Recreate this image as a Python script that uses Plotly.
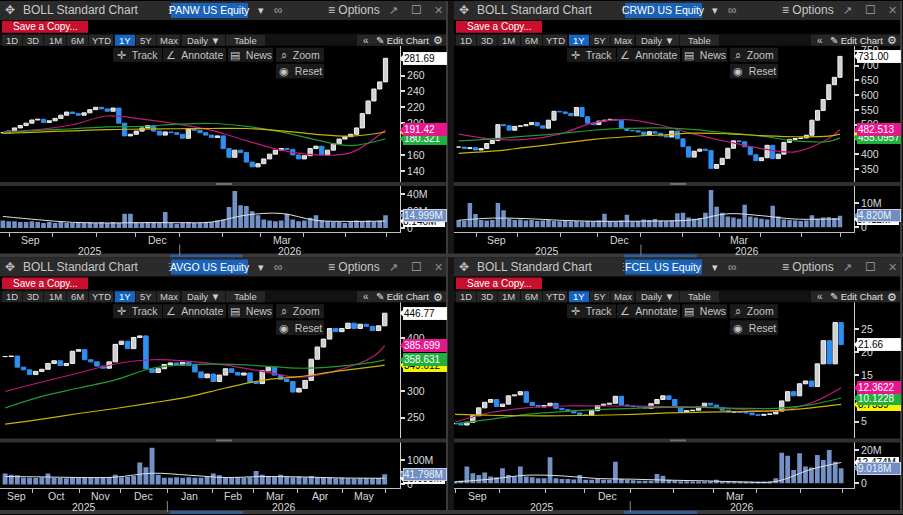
import numpy as np
import pandas as pd
import plotly.graph_objects as go

W, H = 903, 515
FONT = "Liberation Sans, Arial, sans-serif"
LAST_DAY = "2026-05-29"

# ---------------- PANW ----------------
panw_close = [188, 190, 194, 197, 200, 204, 205, 201, 203, 206,
              210, 214, 212, 210, 213, 217, 220, 218, 215, 219,
              200, 184, 186, 190, 194, 197, 190, 185, 189, 188,
              186, 181, 193, 191, 188, 185, 182, 184, 168, 157,
              166, 163, 151, 145, 149, 155, 161, 166, 168, 167,
              160, 155, 159, 168, 171, 160, 166, 174, 180, 183,
              186, 194, 212, 228, 243, 252, 281.69]
panw_vol = [9, 8, 8, 7, 7, 8, 7, 6, 7, 6,
            7, 6, 6, 7, 6, 7, 6, 7, 6, 7,
            6, 17, 17, 7, 6, 7, 7, 6, 19, 6,
            5, 6, 7, 6, 6, 7, 7, 9, 10, 25,
            44, 27, 26, 20, 15, 10, 9, 8, 9, 17,
            10, 8, 9, 12, 15, 9, 8, 7, 7, 6,
            8, 9, 8, 9, 8, 9, 15]
panw_ma_mag = [189, 192, 198, 209, 205, 199, 191, 178, 166, 160, 163, 191.42]
panw_ma_grn = [188, 191, 193, 195.4, 196, 198.7, 199.6, 196, 189, 179, 171.7, 180.321]
panw_ma_yel = [187, 188.8, 190.4, 192, 192.5, 193, 193.3, 193.3, 190.4, 186, 183.7, 188.9]
panw_vol_ma = [13.7, 9.8, 6.7, 5.9, 6.3, 6.3, 7, 15.3, 17.3, 9, 7.8, 8.14]
panw_tags = ["281.69", "191.42", "180.321", "188.905"]
panw_vtags = ["14.999M", "8.140M"]
panw_yticks = [140, 160, 180, 200, 220, 240, 260, 280]

# ---------------- CRWD ----------------
crwd_close = [424, 419, 422, 414, 419, 436, 446, 500, 496, 481,
              494, 496, 500, 507, 496, 488, 515, 545, 543, 538,
              530, 558, 527, 505, 500, 512, 515, 518, 515, 487,
              480, 479, 475, 465, 476, 471, 462, 458, 478, 452,
              425, 390, 410, 417, 412, 352, 365, 386, 420, 445,
              442, 425, 398, 378, 388, 430, 385, 400, 440, 450,
              453, 455, 464, 515, 548, 585, 635, 660, 731.00]
crwd_vol = [3.0, 2.8, 10, 5.5, 3, 2.8, 3, 10, 7, 3.5,
            3, 3.2, 2.8, 3, 2.6, 2.8, 3, 2.6, 2.5, 2.8,
            2.5, 2.6, 2.4, 2.6, 2.5, 2.8, 5.6, 2.6, 2.4, 2.8,
            5.2, 2.4, 2.6, 3.2, 3.0, 3.4, 2.8, 2.6, 2.8, 5.8,
            6, 4, 3.5, 3.8, 6, 15.4, 8.5, 6, 4.5, 4,
            3.5, 9.3, 4.5, 4, 3.5, 3.2, 8.9, 4.5, 3.2, 3,
            2.8, 2.6, 2.8, 5, 3.5, 4, 4.2, 3.8, 4.82]
crwd_ma_mag = [468, 451, 450, 468, 506, 517, 498, 468, 442, 419, 408, 453, 482.513]
crwd_ma_grn = [445, 452, 461, 470, 481, 487, 489, 483, 472, 461, 445, 443, 455.0957]
crwd_ma_yel = [403, 410, 423, 436, 450, 459, 465, 471, 469, 463, 459, 461, 468]
crwd_vol_ma = [2.9, 3.8, 3.6, 2.9, 2.5, 2.5, 2.6, 3.1, 5.6, 4.8, 3.4, 3.4, 3.41]
crwd_tags = ["731.00", "482.513", "455.0957", "468.024"]
crwd_vtags = ["4.820M", "3.412M"]
crwd_yticks = [350, 400, 450, 500, 550, 600, 650, 700, 750]

# ---------------- AVGO ----------------
avgo_close = [365, 366, 345, 340, 331, 337, 341, 352, 357, 348,
              352, 375, 378, 359, 355, 347, 343, 355, 388, 394,
              380, 401, 404, 342, 335, 342, 350, 353, 349, 354,
              348, 336, 325, 332, 318, 330, 342, 335, 330, 334,
              316, 314, 338, 345, 330, 322, 318, 298, 305, 320,
              360, 383, 398, 418, 412, 418, 428, 418, 426, 422,
              414, 423, 446.77]
avgo_vol = [45, 40, 38, 28, 27, 26, 30, 45, 28, 26,
            25, 27, 26, 28, 27, 26, 28, 30, 40, 30,
            32, 35, 90, 70, 150, 40, 28, 27, 30, 28,
            30, 28, 27, 32, 45, 38, 30, 28, 30, 28,
            30, 55, 40, 35, 32, 40, 32, 30, 33, 30,
            35, 28, 27, 30, 25, 27, 25, 24, 25, 26,
            25, 26, 41.8]
avgo_ma_mag = [299, 317, 334, 351, 359, 356, 349, 337, 326, 338, 364, 385.699]
avgo_ma_grn = [268, 290, 305.6, 321, 343, 350, 350.6, 347.5, 343, 346, 354, 358.631]
avgo_ma_yel = [237.5, 247, 257.5, 267, 277.5, 289, 305.6, 320, 327, 337, 345.6, 349]
avgo_vol_ma = [32.5, 31, 28.5, 30, 46, 38, 28.5, 32.5, 31, 27, 25.7, 25.69]
avgo_tags = ["446.77", "385.699", "358.631", "349.012"]
avgo_vtags = ["41.798M", "25.690M"]
avgo_yticks = [250, 300, 350, 400, 450]

# ---------------- FCEL ----------------
fcel_close = [4.6, 4.3, 4.9, 6.3, 8.0, 9.2, 9.8, 8.3, 8.8, 10.6,
              10.8, 11.5, 9.2, 8.5, 8.2, 8.5, 9.0, 7.9, 7.6, 7.3,
              6.9, 6.4, 6.4, 7.4, 8.5, 8.8, 9.0, 10.5, 8.6, 8.4,
              8.3, 8.2, 7.9, 8.9, 9.8, 10.6, 9.8, 8.3, 7.1, 7.4,
              7.5, 8.2, 9.0, 8.6, 8.1, 7.5, 7.1, 7.1, 7.0, 6.9,
              6.5, 6.4, 6.6, 6.7, 7.3, 9.5, 11.5, 10.6, 13.2, 13.8,
              12.6, 17.5, 22.5, 17.5, 26.4, 21.66]
fcel_vol = [1.0, 1.5, 10, 6, 5, 6.4, 4, 3.5, 9, 5,
            4, 10, 4, 3.5, 3, 3, 15.6, 3, 2.5, 2.5,
            2.2, 5, 2, 2, 2.5, 2, 2, 13, 2.5, 2,
            1.8, 1.5, 1.5, 1.5, 5.6, 4.5, 2, 1.5, 1.2, 1.2,
            1, 1, 1, 1.2, 2, 1, 1, 1, 0.8, 0.9,
            0.8, 0.8, 0.9, 1, 3, 18.4, 16.5, 8, 18, 10,
            9.5, 17, 14, 20, 13, 9.02]
fcel_ma_mag = [4.9, 7.0, 8.0, 8.4, 8.4, 8.4, 8.3, 8.2, 7.7, 7.3, 9.1, 12.3622]
fcel_ma_grn = [4.6, 5.5, 6.6, 7.2, 7.6, 7.9, 8.1, 8.1, 7.9, 7.9, 8.7, 10.1228]
fcel_ma_yel = [6.6, 6.4, 6.3, 6.3, 6.4, 6.6, 6.9, 7.1, 7.2, 7.4, 8.0, 8.7339]
fcel_vol_ma = [0.8, 2.4, 4.8, 4.4, 2.8, 2.4, 1.8, 1.4, 0.8, 1.0, 8.4, 12.47]
fcel_tags = ["21.66", "12.3622", "10.1228", "8.7339"]
fcel_vtags = ["9.018M", "12.474M"]
fcel_yticks = [5, 10, 15, 20, 25]

month_starts = ["2025-08-01", "2025-09-01", "2025-10-01", "2025-11-01", "2025-12-01",
                "2026-01-01", "2026-02-01", "2026-03-01", "2026-04-01", "2026-05-01",
                "2026-06-01"]
q_months = [("Sep", "2025-09"), ("Dec", "2025-12"), ("Mar", "2026-03")]
all_months = [("Sep", "2025-09"), ("Oct", "2025-10"), ("Nov", "2025-11"), ("Dec", "2025-12"),
              ("Jan", "2026-01"), ("Feb", "2026-02"), ("Mar", "2026-03"), ("Apr", "2026-04"),
              ("May", "2026-05")]
years = [2025, 2026]

MA_COLORS = ["#c0187c", "#1f9a30", "#c8b400"]
TAG_COLORS = [("white", "black"), ("#e8168c", "white"), ("#20b03c", "white"), ("#f4f400", "black")]

panels = [
    dict(ticker="PANW US Equity", ox=0, oy=0, close=panw_close, vol=panw_vol,
         ma=[panw_ma_mag, panw_ma_grn, panw_ma_yel], vol_ma=panw_vol_ma,
         xr=["2025-08-25", "2026-06-09"], yr=[126, 297.5], vr=[-4.4, 50],
         yticks=panw_yticks, vticks=[0, 20, 40], vtext=["0", "20M", "40M"],
         tags=panw_tags, vtags=panw_vtags, months=q_months),
    dict(ticker="CRWD US Equity", ox=454, oy=0, close=crwd_close, vol=crwd_vol,
         ma=[crwd_ma_mag, crwd_ma_grn, crwd_ma_yel], vol_ma=crwd_vol_ma,
         xr=["2025-08-14", "2026-06-09"], yr=[306, 767], vr=[-1.8, 17.1],
         yticks=crwd_yticks, vticks=[0, 5, 10], vtext=["0", "5M", "10M"],
         tags=crwd_tags, vtags=crwd_vtags, months=q_months),
    dict(ticker="AVGO US Equity", ox=0, oy=258, close=avgo_close, vol=avgo_vol,
         ma=[avgo_ma_mag, avgo_ma_grn, avgo_ma_yel], vol_ma=avgo_vol_ma,
         xr=["2025-09-09", "2026-06-09"], yr=[210.5, 467.5], vr=[-15, 172],
         yticks=avgo_yticks, vticks=[0, 50, 100], vtext=["0", "50M", "100M"],
         tags=avgo_tags, vtags=avgo_vtags, months=all_months),
    dict(ticker="FCEL US Equity", ox=454, oy=258, close=fcel_close, vol=fcel_vol,
         ma=[fcel_ma_mag, fcel_ma_grn, fcel_ma_yel], vol_ma=fcel_vol_ma,
         xr=["2025-08-29", "2026-06-08"], yr=[1.4, 30.8], vr=[-3, 24.6],
         yticks=fcel_yticks, vticks=[0, 10, 20], vtext=["0", "10M", "20M"],
         tags=fcel_tags, vtags=fcel_vtags, months=q_months),
]

BUTTONS = [("1D", 2, 22), ("3D", 23, 43), ("1M", 44, 66), ("6M", 67, 88), ("YTD", 89, 113),
           ("1Y", 115, 135), ("5Y", 136, 156), ("Max", 157, 180), ("Daily ▼", 182, 225),
           ("Table", 226, 265)]
FLOAT = [("✛  Track", 113, 162), ("∠  Annotate", 163, 226), ("▤  News", 228, 273),
         ("⌕  Zoom", 276, 324)]


def px(x):
    return x / W


def py(y):
    return 1 - y / H


shapes = []
annots = []


def rect(x0, y0, x1, y1, color):
    shapes.append(dict(type="rect", xref="paper", yref="paper", x0=px(x0), x1=px(x1),
                       y0=py(y1), y1=py(y0), fillcolor=color, line_width=0, layer="above"))


def text(x, y, s, size=11, color="#c8c8c8", anchor="left"):
    annots.append(dict(xref="paper", yref="paper", x=px(x), y=py(y), text=s, showarrow=False,
                       xanchor=anchor, yanchor="middle",
                       font=dict(size=size, color=color, family=FONT)))


def pointer(x, yfrac, color):
    # small left-pointing notch in front of an axis tag
    h = 4.5 / H
    shapes.append(dict(type="path", xref="paper", yref="paper", layer="above",
                       path=f"M {px(x)},{yfrac} L {px(x + 4)},{yfrac + h} L {px(x + 4)},{yfrac - h} Z",
                       fillcolor=color, line_width=0))


def chrome(ox, oy, ticker):
    rect(ox, oy, ox + 447, oy + 19, "#2b2b2b")
    text(ox + 3, oy + 9.5, "✥", 12, "#bdbdbd")
    text(ox + 21, oy + 9.5, "BOLL Standard Chart", 12)
    text(ox + 162, oy + 9.5, "⋮", 11, "#a0a0a0")
    rect(ox + 171, oy + 2, ox + 248, oy + 17, "#1b63b8")
    text(ox + 209.5, oy + 9.5, ticker, 10.5, "white", "center")
    text(ox + 256, oy + 9.5, "▾", 11, "#cfcfcf")
    text(ox + 272, oy + 9.5, "∞", 12, "#a0a0a0")
    text(ox + 326, oy + 9.5, "≡ Options", 12)
    text(ox + 387, oy + 9.5, "↗", 11, "#a0a0a0")
    text(ox + 409, oy + 9.5, "☐", 12, "#a0a0a0")
    text(ox + 432, oy + 9.5, "✕", 11, "#8a8a8a")
    rect(ox + 2, oy + 20, ox + 88, oy + 32, "#c8102e")
    text(ox + 45, oy + 26, "Save a Copy...", 10, "white", "center")
    rect(ox, oy + 33, ox + 447, oy + 45, "#121212")
    for lab, a, b in BUTTONS:
        rect(ox + a, oy + 34, ox + b, oy + 45, "#1565c0" if lab == "1Y" else "#262626")
        text(ox + (a + b) / 2, oy + 39.5, lab, 9.5, "white" if lab == "1Y" else "#d0d0d0", "center")
    rect(ox + 357, oy + 34, ox + 447, oy + 45, "#262626")
    text(ox + 361, oy + 39.5, "«", 10, "#d0d0d0")
    text(ox + 374, oy + 39.5, "✎ Edit Chart", 9.5, "#e0e0e0")
    text(ox + 438, oy + 39.5, "⚙", 11, "#e0e0e0", "center")
    for lab, a, b in FLOAT:
        rect(ox + a, oy + 47, ox + b, oy + 61, "#1b1b1b")
        text(ox + (a + b) / 2, oy + 54, lab, 10.5, "#c4c4c4", "center")
    rect(ox + 276, oy + 63, ox + 324, oy + 78, "#1b1b1b")
    text(ox + 300, oy + 70.5, "◉  Reset", 10.5, "#c4c4c4", "center")
    rect(ox, oy + 182, ox + 446, oy + 186, "#303030")
    rect(ox + 216, oy + 183, ox + 232, oy + 185, "#707070")
    rect(ox + 446, oy, ox + 448, oy + 258, "#3c3c3c")
    rect(ox + 448, oy, ox + 454, oy + 258, "#161616")
    rect(ox, oy + 254, ox + 454, oy + 258, "#3a3a3a")
    rect(ox + 170, oy + 255, ox + 243, oy + 258, "#2d5d9a")


def ax(i, kind):
    return kind if i == 1 else f"{kind}{i}"


def lk(i, kind):
    return kind + "axis" + ("" if i == 1 else str(i))


def frac(v, dom, rng):
    return dom[0] + (v - rng[0]) / (rng[1] - rng[0]) * (dom[1] - dom[0])


fig = go.Figure()
layout = dict(width=W, height=H, margin=dict(l=0, r=0, t=0, b=0), paper_bgcolor="black",
              plot_bgcolor="black", showlegend=False, barmode="overlay",
              font=dict(family=FONT, color="#d8d8d8", size=10))

for k, p in enumerate(panels):
    ox, oy = p["ox"], p["oy"]
    ip, iv = 2 * k + 1, 2 * k + 2
    xp, yp, xv, yv = ax(ip, "x"), ax(ip, "y"), ax(iv, "x"), ax(iv, "y")
    # trading-day calendar of the visible window; x is the trading-day number
    days = pd.bdate_range(p["xr"][0], p["xr"][1])
    n = len(p["close"])
    dates = pd.bdate_range(end=LAST_DAY, periods=3 * n)[2::3]
    xi = days.get_indexer(dates)
    close = np.array(p["close"], dtype=float)
    opn = np.r_[close[0], close[:-1]]
    up = close >= opn
    fig.add_trace(go.Bar(
        x=xi, y=np.abs(close - opn), base=np.minimum(opn, close), width=2.2,
        marker=dict(color=np.where(up, "#cfcfcf", "#2f8ef0").tolist(),
                    line=dict(color=np.where(up, "#f2f2f2", "#2f8ef0").tolist(), width=1)),
        xaxis=xp, yaxis=yp, hoverinfo="skip"))
    idx = sorted(set(range(0, n, 6)) | {n - 1})
    for vals, col in zip(p["ma"], MA_COLORS):
        fig.add_trace(go.Scatter(x=xi[idx], y=vals, mode="lines",
                                 line=dict(color=col, width=1.2, shape="spline"),
                                 xaxis=xp, yaxis=yp, hoverinfo="skip"))
    fig.add_trace(go.Bar(x=xi, y=p["vol"], width=2.4,
                         marker=dict(color="#7391c4", line_width=0),
                         xaxis=xv, yaxis=yv, hoverinfo="skip"))
    fig.add_trace(go.Scatter(x=xi[idx], y=p["vol_ma"], mode="lines",
                             line=dict(color="#e0e0e0", width=1, shape="spline"),
                             xaxis=xv, yaxis=yv, hoverinfo="skip"))

    mticks = [days.searchsorted(pd.Timestamp(m)) - 0.5 for m in month_starts]
    mticks = [t for t in mticks if 0 < t < len(days) - 1]
    pdom = [py(oy + 182), py(oy + 45)]
    vdom = [py(oy + 232), py(oy + 186)]
    common_x = dict(domain=[px(ox), px(ox + 400)], range=[-0.5, len(days) - 0.5],
                    showgrid=False, zeroline=False, fixedrange=True)
    layout[lk(ip, "x")] = dict(common_x, anchor=yp, showticklabels=False, ticks="")
    layout[lk(iv, "x")] = dict(
        common_x, anchor=yv, showticklabels=False, ticks="outside", ticklen=4,
        tickcolor="#bdbdbd", tickvals=mticks, showline=True, linecolor="#bdbdbd",
        linewidth=1)
    common_y = dict(side="right", showgrid=False, zeroline=False, showline=True,
                    linecolor="#cfcfcf", ticks="outside", ticklen=4, tickwidth=2,
                    tickcolor="#e0e0e0", tickfont=dict(size=10.5, color="#dcdcdc"),
                    fixedrange=True)
    layout[lk(ip, "y")] = dict(common_y, domain=pdom, range=p["yr"], anchor=xp,
                               tickvals=p["yticks"])
    layout[lk(iv, "y")] = dict(common_y, domain=vdom, range=p["vr"], anchor=xv,
                               tickvals=p["vticks"], ticktext=p["vtext"])

    chrome(ox, oy, p["ticker"])

    # month and year labels under the volume pane, centred on their visible days
    ym = days.strftime("%Y-%m")
    for lab, m in p["months"]:
        pos = np.flatnonzero(ym == m)
        if len(pos):
            annots.append(dict(xref=xv, yref="paper", x=pos.mean(), y=py(oy + 240), text=lab,
                               showarrow=False, xanchor="center", yanchor="middle",
                               font=dict(size=10.5, color="#d8d8d8", family=FONT)))
    for yr in years:
        pos = np.flatnonzero(days.year == yr)
        annots.append(dict(xref=xv, yref="paper", x=pos.mean(), y=py(oy + 251), text=str(yr),
                           showarrow=False, xanchor="center", yanchor="middle",
                           font=dict(size=10.5, color="#d8d8d8", family=FONT)))
    ysep = days.searchsorted(pd.Timestamp("2026-01-01")) - 0.5
    shapes.append(dict(type="line", xref=xv, yref="paper", x0=ysep, x1=ysep,
                       y0=py(oy + 256), y1=py(oy + 245), line=dict(color="#8a8a8a", width=1)))

    # value tags on the price axis (drawn bottom-most first)
    tag_vals = [close[-1], p["ma"][0][-1], p["ma"][1][-1], p["ma"][2][-1]]
    for j in [3, 2, 1, 0]:
        bg, fc = TAG_COLORS[j]
        pointer(ox + 400, frac(tag_vals[j], pdom, p["yr"]), bg)
        annots.append(dict(xref="paper", yref=yp, x=px(ox + 403), y=tag_vals[j],
                           xanchor="left", yanchor="middle", text=p["tags"][j],
                           showarrow=False, bgcolor=bg, bordercolor="#f0f0f0" if j == 0 else bg,
                           borderwidth=1, borderpad=0, width=42, align="left",
                           font=dict(size=10, color=fc, family=FONT)))
    # volume tags
    pointer(ox + 400, frac(p["vol_ma"][-1], vdom, p["vr"]), "white")
    annots.append(dict(xref="paper", yref=yv, x=px(ox + 403), y=p["vol_ma"][-1],
                       xanchor="left", yanchor="middle", text=p["vtags"][1], showarrow=False,
                       bgcolor="white", borderwidth=0, borderpad=0, width=42, align="left",
                       font=dict(size=10, color="black", family=FONT)))
    pointer(ox + 400, frac(p["vol"][-1], vdom, p["vr"]), "#6f8ec4")
    annots.append(dict(xref="paper", yref=yv, x=px(ox + 403), y=p["vol"][-1],
                       xanchor="left", yanchor="middle", text=p["vtags"][0], showarrow=False,
                       bgcolor="#6f8ec4", bordercolor="#c8d2e4", borderwidth=1, borderpad=0,
                       width=42, align="left", font=dict(size=10, color="#eef2f8", family=FONT)))

layout["shapes"] = shapes
layout["annotations"] = annots
fig.update_layout(**layout)
# the page's default body margin would push the figure 8px off the window origin
fig.write_html("out.html", config={"displayModeBar": False},
               post_script="document.body.style.margin='0';")
